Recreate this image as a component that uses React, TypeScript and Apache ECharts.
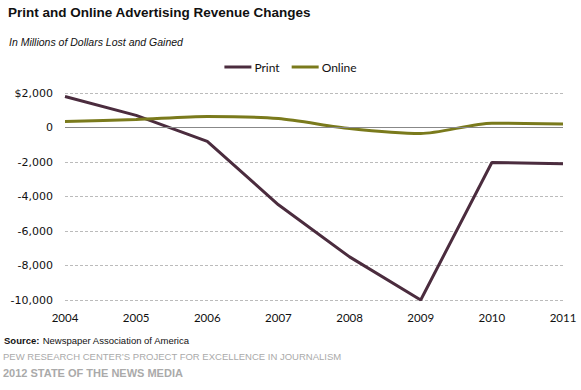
import React, { useEffect, useRef } from "react";
import * as echarts from "echarts";

const years = ["2004", "2005", "2006", "2007", "2008", "2009", "2010", "2011"];
const printValues = [1800, 700, -800, -4480, -7500, -10000, -2030, -2100];
const onlineValues = [350, 460, 640, 520, -60, -350, 250, 200];
const yMin = -10000;
const yMax = 2000;
const yInterval = 2000;

const fmtY = (v: number) => {
  const s = Math.abs(v).toLocaleString("en-US");
  if (v === yMax) return "$" + s;
  return (v < 0 ? "-" : "") + s;
};

export default function App() {
  const ref = useRef<HTMLDivElement>(null);
  useEffect(() => {
    const chart = echarts.init(ref.current!, null, { renderer: "svg" });
    chart.setOption({
      animation: false,
      backgroundColor: "#ffffff",
      textStyle: { fontFamily: "Liberation Sans" },
      title: [
        {
          text: "Print and Online Advertising Revenue Changes",
          left: 3,
          top: 0,
          textStyle: { fontSize: 13.5, fontWeight: "bold", color: "#111", fontFamily: "Liberation Sans" },
        },
        {
          text: "In Millions of Dollars Lost and Gained",
          left: 4,
          top: 31,
          textStyle: { fontSize: 10.5, fontStyle: "italic", fontWeight: "normal", color: "#111", fontFamily: "Liberation Sans" },
        },
      ],
      legend: {
        top: 56,
        left: "center",
        itemWidth: 27,
        itemHeight: 3,
        itemGap: 12,
        icon: "rect",
        textStyle: { fontSize: 12, fontFamily: "Lato", color: "#111", padding: [0, 0, 0, -2] },
        data: ["Print", "Online"],
      },
      grid: { left: 65, right: 18, top: 93, bottom: 90, containLabel: false },
      xAxis: {
        type: "category",
        data: years,
        boundaryGap: false,
        axisLine: { show: false },
        axisTick: { show: false },
        axisLabel: { fontSize: 11.5, fontFamily: "Lato", color: "#111", margin: 11 },
      },
      yAxis: {
        type: "value",
        min: yMin,
        max: yMax,
        interval: yInterval,
        axisLine: { show: false },
        axisTick: { show: false },
        axisLabel: { formatter: fmtY, fontSize: 11, fontFamily: "DejaVu Sans", color: "#111", margin: 12 },
        splitLine: { lineStyle: { type: [3, 2], color: "#bbbbbb", width: 1 } },
      },
      series: [
        {
          name: "Print",
          type: "line",
          data: printValues,
          symbol: "none",
          color: "#4b2c3e",
          lineStyle: { width: 3, color: "#4b2c3e" },
          markLine: {
            silent: true,
            symbol: "none",
            label: { show: false },
            lineStyle: { type: "solid", color: "#888", width: 1 },
            data: [{ yAxis: 0 }],
          },
          z: 3,
        },
        {
          name: "Online",
          type: "line",
          data: onlineValues,
          symbol: "none",
          color: "#7a7a1c",
          smooth: 0.25,
          lineStyle: { width: 3, color: "#7a7a1c" },
          z: 4,
        },
      ],
      graphic: [
        {
          type: "text",
          left: 4,
          top: 334,
          style: {
            rich: {
              b: { fontWeight: "bold", fontSize: 9.5, fill: "#111", fontFamily: "Liberation Sans" },
              n: { fontSize: 9.5, fill: "#111", fontFamily: "Liberation Sans" },
            },
            text: "{b|Source:} {n|Newspaper Association of America}",
          },
        },
        {
          type: "text",
          left: 3,
          top: 351,
          style: { text: "PEW RESEARCH CENTER\u2019S PROJECT FOR EXCELLENCE IN JOURNALISM", fontSize: 9.5, fill: "#aaaaaa", fontFamily: "Liberation Sans" },
        },
        {
          type: "text",
          left: 3,
          top: 367,
          style: { text: "2012 STATE OF THE NEWS MEDIA", fontSize: 11, fontWeight: "bold", fill: "#aaaaaa", fontFamily: "Liberation Sans" },
        },
      ],
    });
    return () => chart.dispose();
  }, []);
  return <div ref={ref} style={{ width: 581, height: 390, position: "absolute", left: 0, top: 0 }} />;
}
